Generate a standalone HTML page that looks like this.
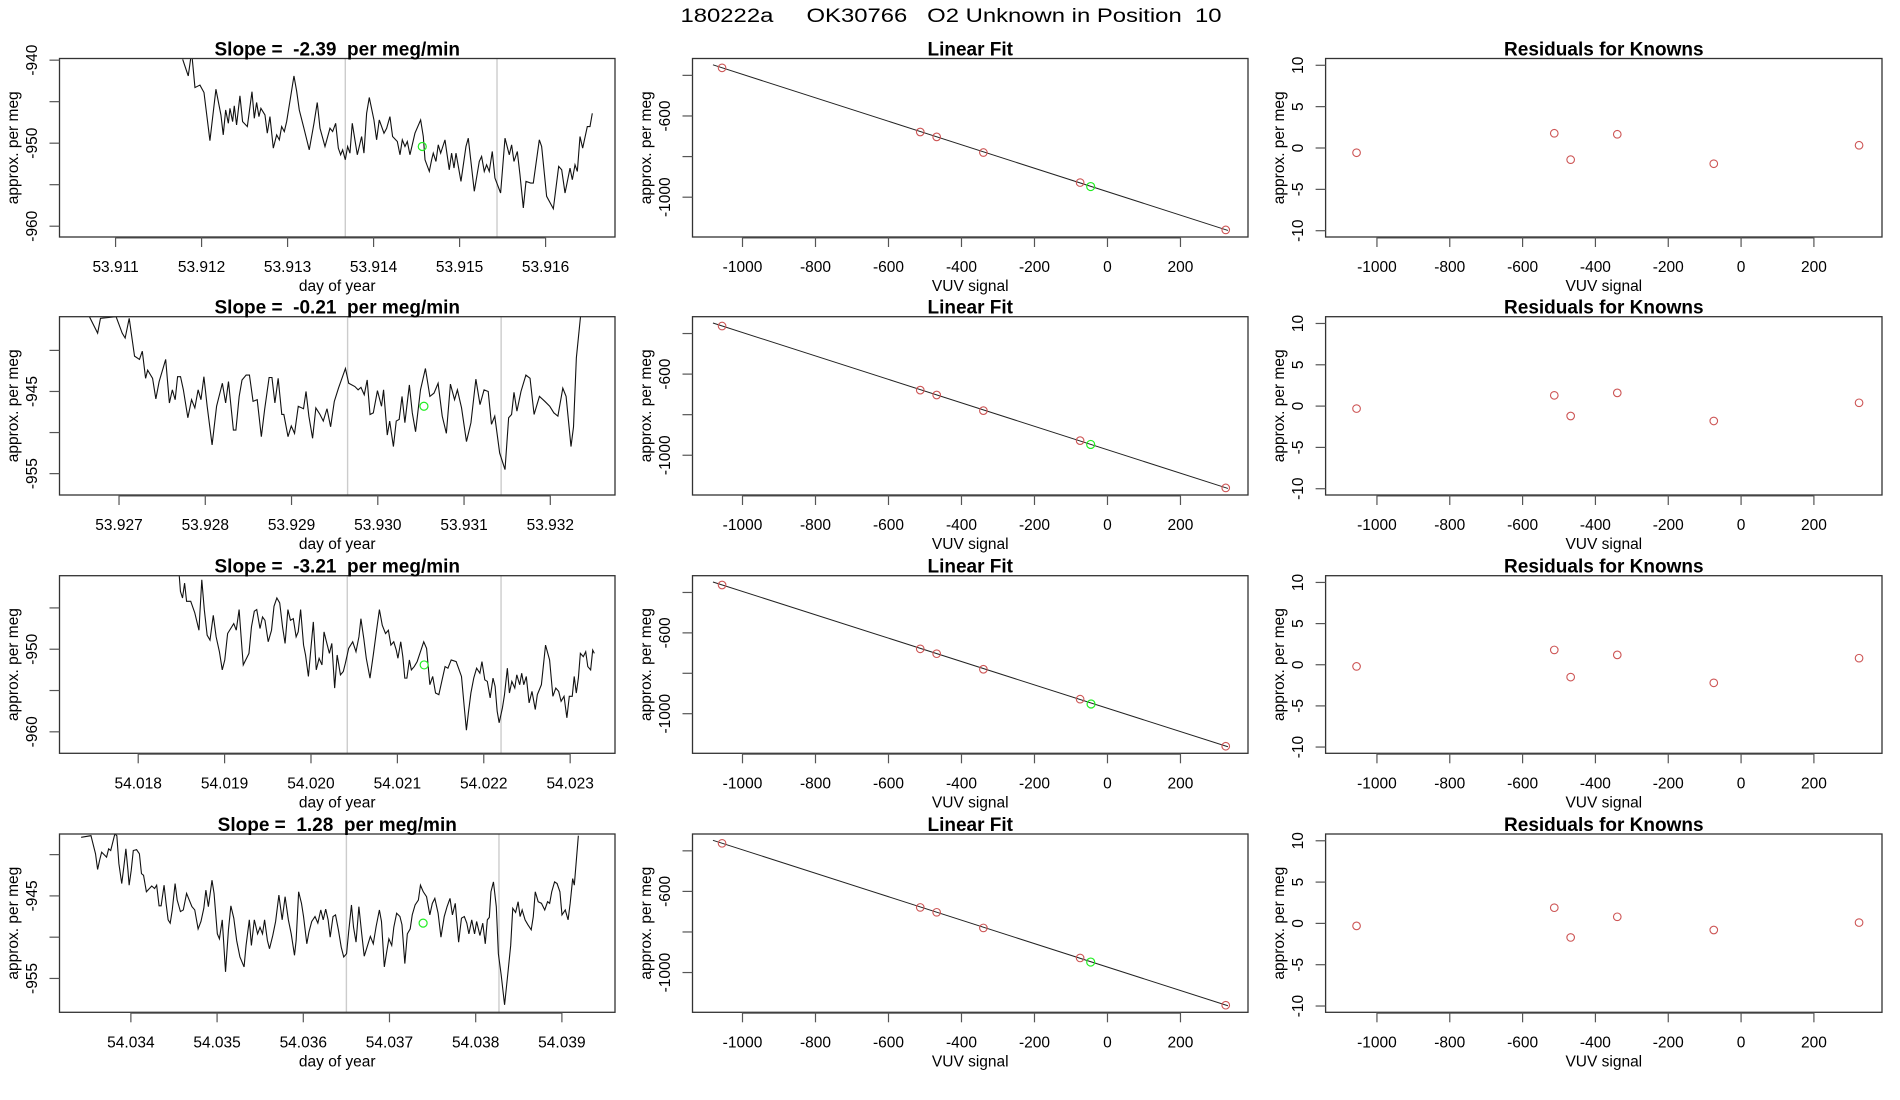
<!DOCTYPE html>
<html><head><meta charset="utf-8"><title>180222a OK30766 O2 Unknown in Position 10</title>
<style>
html,body{margin:0;padding:0;background:#fff;}
svg{display:block;font-family:"Liberation Sans",Arial,sans-serif;}
text{white-space:pre;}
</style></head>
<body>
<svg id="fig" width="1900" height="1100" viewBox="0 0 1900 1100" xmlns="http://www.w3.org/2000/svg">
<rect x="0" y="0" width="1900" height="1100" fill="#fff"/>
<text x="951" y="22" font-size="19" text-anchor="middle" textLength="541" lengthAdjust="spacingAndGlyphs" xml:space="preserve">180222a     OK30766   O2 Unknown in Position  10</text>
</svg>
<script>
// ---------- DATA ----------
const slopeLabels = ["-2.39", "-0.21", "-3.21", "1.28"];

const ts1Days = [53.911780,53.911845,53.911884,53.911923,53.911981,53.912028,53.912097,53.912167,53.912225,53.912252,53.912280,53.912311,53.912330,53.912361,53.912380,53.912407,53.912446,53.912477,53.912532,53.912586,53.912613,53.912640,53.912667,53.912690,53.912737,53.912764,53.912795,53.912834,53.912873,53.912904,53.912931,53.912962,53.912989,53.913028,53.913074,53.913105,53.913136,53.913190,53.913252,53.913307,53.913345,53.913377,53.913435,53.913493,53.913524,53.913559,53.913590,53.913617,53.913640,53.913671,53.913698,53.913725,53.913752,53.913783,53.913811,53.913861,53.913888,53.913919,53.913950,53.914004,53.914035,53.914066,53.914121,53.914152,53.914190,53.914221,53.914276,53.914307,53.914334,53.914365,53.914392,53.914423,53.914481,53.914547,53.914578,53.914598,53.914648,53.914675,53.914694,53.914725,53.914752,53.914780,53.914830,53.914880,53.914907,53.914935,53.914958,53.915016,53.915074,53.915101,53.915171,53.915229,53.915256,53.915287,53.915314,53.915345,53.915380,53.915411,53.915477,53.915528,53.915578,53.915605,53.915632,53.915671,53.915702,53.915741,53.915772,53.915826,53.915857,53.915927,53.915954,53.916012,53.916090,53.916152,53.916187,53.916226,53.916284,53.916311,53.916342,53.916369,53.916400,53.916431,53.916485,53.916516,53.916543];
const ts1Vals = [-939.9,-941.9,-939.0,-943.3,-943.0,-943.9,-949.7,-943.5,-946.6,-949.0,-946.0,-947.6,-945.8,-947.4,-945.5,-947.8,-944.3,-947.4,-948.0,-943.8,-947.0,-945.1,-946.8,-945.8,-946.6,-948.8,-946.8,-950.6,-949.0,-949.6,-948.0,-948.6,-947.4,-944.9,-941.9,-943.7,-946.0,-948.2,-950.8,-947.6,-945.1,-948.2,-950.4,-948.2,-948.6,-947.6,-950.6,-951.4,-950.8,-952.0,-950.4,-951.2,-947.6,-949.6,-951.4,-949.2,-951.2,-946.4,-944.5,-947.2,-949.6,-947.2,-948.8,-948.2,-946.8,-949.2,-949.8,-951.4,-949.6,-950.4,-949.8,-951.4,-948.8,-947.2,-949.2,-952.0,-953.4,-952.0,-951.2,-952.2,-950.2,-951.2,-949.6,-953.2,-951.2,-953.0,-951.2,-954.6,-950.4,-949.4,-955.8,-952.2,-951.6,-953.4,-952.6,-953.4,-951.0,-954.2,-956.0,-949.4,-951.4,-950.2,-952.2,-951.0,-953.8,-957.8,-954.6,-954.8,-954.8,-949.6,-950.4,-956.4,-957.9,-952.8,-953.2,-956.0,-953.0,-954.4,-952.6,-953.4,-949.2,-950.6,-948.0,-948.0,-946.4];

const ts2Days = [53.926657,53.926752,53.926785,53.926966,53.927037,53.927071,53.927118,53.927180,53.927237,53.927270,53.927308,53.927332,53.927389,53.927427,53.927465,53.927541,53.927584,53.927618,53.927651,53.927679,53.927713,53.927746,53.927798,53.927841,53.927879,53.927917,53.927950,53.927984,53.928022,53.928079,53.928131,53.928198,53.928236,53.928269,53.928326,53.928355,53.928393,53.928426,53.928474,53.928512,53.928554,53.928602,53.928650,53.928688,53.928740,53.928773,53.928807,53.928845,53.928887,53.928911,53.928959,53.928997,53.929035,53.929078,53.929139,53.929168,53.929201,53.929244,53.929282,53.929330,53.929368,53.929411,53.929453,53.929496,53.929544,53.929625,53.929663,53.929734,53.929772,53.929805,53.929843,53.929877,53.929910,53.929948,53.929996,53.930043,53.930067,53.930110,53.930138,53.930181,53.930214,53.930248,53.930281,53.930314,53.930366,53.930400,53.930438,53.930495,53.930552,53.930604,53.930652,53.930699,53.930747,53.930795,53.930842,53.930890,53.930923,53.930971,53.931028,53.931080,53.931137,53.931185,53.931232,53.931280,53.931318,53.931356,53.931413,53.931475,53.931517,53.931551,53.931579,53.931613,53.931660,53.931717,53.931765,53.931812,53.931874,53.931936,53.931993,53.932041,53.932088,53.932145,53.932183,53.932240,53.932269,53.932302,53.932350];
const ts2Vals = [-935.9,-937.9,-936.1,-935.9,-937.9,-938.5,-936.1,-940.7,-941.1,-940.1,-943.4,-942.4,-943.4,-945.9,-943.8,-941.1,-946.4,-944.8,-946.0,-943.2,-943.2,-944.8,-948.2,-946.0,-947.0,-944.8,-946.0,-943.2,-946.8,-951.5,-946.8,-944.0,-946.4,-943.8,-949.7,-949.7,-945.6,-943.6,-943.0,-943.0,-946.2,-946.0,-950.5,-947.2,-943.3,-943.3,-946.4,-943.4,-947.8,-947.8,-950.5,-949.2,-950.1,-946.8,-947.1,-945.0,-948.0,-950.7,-947.0,-947.8,-948.6,-947.1,-949.3,-946.2,-944.6,-942.2,-944.0,-944.4,-944.8,-944.5,-945.4,-943.6,-947.8,-947.6,-944.9,-946.8,-944.8,-950.3,-948.6,-951.7,-948.6,-948.4,-945.6,-948.8,-944.2,-947.6,-949.9,-944.8,-942.2,-945.6,-945.2,-944.0,-948.0,-950.1,-944.1,-946.0,-944.8,-947.0,-951.1,-948.8,-943.5,-946.6,-944.8,-945.0,-949.0,-948.0,-952.5,-954.5,-948.2,-947.8,-945.1,-947.4,-945.0,-943.0,-943.4,-947.8,-945.6,-946.2,-946.8,-947.6,-948.0,-944.6,-945.6,-951.7,-949.3,-940.9,-935.9];

const ts3Days = [54.018475,54.018489,54.018513,54.018537,54.018560,54.018608,54.018655,54.018703,54.018736,54.018765,54.018798,54.018831,54.018869,54.018902,54.018940,54.018973,54.019002,54.019035,54.019106,54.019135,54.019168,54.019201,54.019216,54.019282,54.019311,54.019344,54.019372,54.019410,54.019439,54.019467,54.019505,54.019543,54.019572,54.019605,54.019638,54.019671,54.019700,54.019733,54.019762,54.019795,54.019828,54.019852,54.019880,54.019914,54.019937,54.019970,54.019994,54.020027,54.020061,54.020094,54.020127,54.020151,54.020179,54.020213,54.020241,54.020274,54.020303,54.020341,54.020374,54.020398,54.020436,54.020483,54.020521,54.020555,54.020578,54.020611,54.020640,54.020683,54.020721,54.020759,54.020792,54.020825,54.020863,54.020896,54.020925,54.020958,54.020987,54.021006,54.021039,54.021063,54.021086,54.021110,54.021139,54.021162,54.021195,54.021229,54.021267,54.021305,54.021338,54.021376,54.021409,54.021442,54.021480,54.021518,54.021552,54.021585,54.021623,54.021680,54.021708,54.021742,54.021775,54.021799,54.021822,54.021851,54.021884,54.021917,54.021955,54.021979,54.022012,54.022041,54.022074,54.022107,54.022131,54.022155,54.022178,54.022216,54.022240,54.022273,54.022297,54.022325,54.022359,54.022382,54.022416,54.022439,54.022463,54.022492,54.022525,54.022558,54.022596,54.022620,54.022667,54.022715,54.022762,54.022800,54.022834,54.022867,54.022895,54.022929,54.022962,54.022990,54.023024,54.023047,54.023071,54.023095,54.023118,54.023152,54.023180,54.023204,54.023237,54.023261,54.023280];
const ts3Vals = [-941.1,-943.0,-943.8,-942.0,-944.2,-944.2,-945.6,-947.7,-941.6,-945.2,-948.3,-948.9,-945.9,-948.5,-950.3,-952.5,-951.3,-948.1,-946.9,-947.7,-945.2,-949.9,-951.9,-950.5,-947.3,-945.4,-945.2,-947.5,-946.1,-946.5,-949.1,-947.7,-944.8,-943.8,-944.4,-947.3,-949.3,-945.2,-946.5,-946.3,-948.5,-947.9,-945.2,-949.5,-950.7,-953.3,-950.5,-946.7,-952.5,-951.1,-951.9,-947.9,-949.1,-950.5,-949.3,-954.7,-950.7,-953.1,-952.7,-951.7,-949.9,-949.1,-950.3,-948.5,-946.3,-948.7,-951.1,-953.5,-950.7,-947.7,-945.2,-947.1,-948.1,-947.7,-949.5,-949.1,-950.1,-951.1,-949.1,-950.9,-953.5,-953.5,-951.3,-952.5,-952.1,-951.5,-950.3,-949.1,-949.9,-954.3,-953.3,-955.3,-955.5,-953.7,-952.1,-952.3,-951.3,-951.5,-952.3,-953.3,-957.1,-959.8,-957.7,-955.3,-953.5,-952.3,-952.9,-951.5,-953.7,-953.9,-955.9,-953.5,-954.5,-957.5,-958.9,-957.1,-955.5,-952.3,-955.3,-953.9,-954.7,-953.1,-954.3,-952.9,-954.3,-953.3,-956.5,-955.1,-957.3,-955.5,-954.3,-949.5,-951.3,-955.7,-954.7,-955.1,-956.3,-955.7,-958.3,-955.7,-955.7,-953.3,-955.3,-953.5,-950.5,-950.9,-950.3,-952.1,-952.5,-950.1,-950.5];

const ts4Days = [54.033423,54.033537,54.033590,54.033614,54.033637,54.033661,54.033718,54.033742,54.033766,54.033814,54.033837,54.033861,54.033894,54.033918,54.033942,54.033966,54.033980,54.034004,54.034028,54.034066,54.034099,54.034123,54.034147,54.034180,54.034242,54.034275,54.034299,54.034327,54.034351,54.034385,54.034408,54.034432,54.034456,54.034480,54.034513,54.034537,54.034575,54.034608,54.034646,54.034708,54.034741,54.034780,54.034813,54.034846,54.034870,54.034899,54.034941,54.034965,54.035003,54.035027,54.035060,54.035098,54.035132,54.035160,54.035194,54.035227,54.035265,54.035313,54.035336,54.035374,54.035398,54.035432,54.035470,54.035498,54.035527,54.035551,54.035584,54.035608,54.035646,54.035679,54.035717,54.035755,54.035789,54.035827,54.035860,54.035898,54.035917,54.035946,54.035979,54.036003,54.036041,54.036065,54.036098,54.036136,54.036169,54.036203,54.036231,54.036260,54.036288,54.036312,54.036345,54.036374,54.036407,54.036440,54.036469,54.036502,54.036526,54.036559,54.036583,54.036612,54.036645,54.036678,54.036707,54.036740,54.036778,54.036812,54.036845,54.036883,54.036907,54.036940,54.036964,54.036993,54.037026,54.037050,54.037083,54.037121,54.037145,54.037178,54.037207,54.037240,54.037264,54.037297,54.037335,54.037359,54.037392,54.037430,54.037468,54.037497,54.037526,54.037564,54.037597,54.037635,54.037668,54.037702,54.037730,54.037763,54.037802,54.037835,54.037868,54.037897,54.037921,54.037954,54.037987,54.038011,54.038049,54.038082,54.038111,54.038135,54.038158,54.038177,54.038206,54.038239,54.038263,54.038296,54.038335,54.038373,54.038406,54.038430,54.038463,54.038492,54.038515,54.038539,54.038573,54.038606,54.038644,54.038668,54.038691,54.038725,54.038763,54.038801,54.038834,54.038858,54.038882,54.038915,54.038944,54.038977,54.039001,54.039039,54.039072,54.039096,54.039125,54.039144,54.039191];
const ts4Vals = [-937.9,-937.7,-939.9,-941.8,-940.7,-939.7,-940.3,-939.3,-939.5,-937.5,-937.7,-941.1,-943.5,-941.5,-939.3,-941.9,-943.7,-941.9,-939.5,-939.4,-939.9,-942.3,-942.5,-944.5,-943.8,-944.1,-943.7,-946.2,-946.2,-943.7,-945.9,-947.9,-948.3,-946.7,-943.5,-945.5,-946.9,-946.7,-944.7,-946.3,-946.7,-949.0,-948.1,-946.5,-944.3,-946.3,-943.1,-944.7,-949.6,-950.2,-947.9,-954.2,-949.1,-946.2,-947.7,-950.4,-952.4,-953.6,-951.0,-947.9,-951.0,-947.9,-949.6,-948.8,-949.6,-947.9,-950.4,-951.4,-949.8,-948.1,-944.9,-947.9,-945.1,-947.9,-949.6,-952.2,-950.4,-944.5,-945.9,-947.5,-950.8,-949.4,-948.1,-947.5,-948.3,-946.7,-947.9,-946.6,-947.9,-950.0,-947.5,-947.3,-949.1,-951.2,-952.4,-952.0,-949.4,-946.1,-948.8,-950.6,-946.3,-949.6,-952.3,-951.2,-949.9,-950.8,-948.7,-946.7,-948.1,-953.6,-952.0,-950.2,-951.0,-948.8,-947.1,-947.5,-948.5,-953.2,-949.6,-949.0,-947.3,-946.1,-945.5,-943.7,-944.5,-945.1,-947.3,-945.9,-945.3,-947.1,-950.0,-947.5,-946.3,-945.3,-947.3,-945.9,-950.6,-947.7,-947.5,-948.3,-949.6,-947.9,-949.6,-948.1,-949.8,-948.3,-950.8,-947.9,-947.6,-944.5,-943.3,-946.3,-952.0,-954.6,-958.2,-954.4,-951.0,-946.5,-947.0,-945.7,-947.5,-946.7,-947.9,-948.5,-949.1,-947.5,-944.5,-945.7,-945.9,-946.7,-945.7,-945.9,-944.5,-943.3,-943.5,-944.5,-947.3,-946.7,-947.9,-945.9,-942.9,-943.7,-937.7];

// window markers (grey lines) and unknown (green) points in time panels
const windowStart = [53.913671, 53.92965, 54.02042, 54.0365];
const windowEnd = [53.915435, 53.93143, 54.02220, 54.03827];
const unknownDay = [53.914566, 53.930535, 54.02131, 54.03739];
const unknownVal = [-950.4, -946.8, -951.9, -948.3];

// time-axis ticks
const timeTicks = [
  [53.911, 53.912, 53.913, 53.914, 53.915, 53.916],
  [53.927, 53.928, 53.929, 53.930, 53.931, 53.932],
  [54.018, 54.019, 54.020, 54.021, 54.022, 54.023],
  [54.034, 54.035, 54.036, 54.037, 54.038, 54.039]
];
const timeTickLabels = [
  ["53.911","53.912","53.913","53.914","53.915","53.916"],
  ["53.927","53.928","53.929","53.930","53.931","53.932"],
  ["54.018","54.019","54.020","54.021","54.022","54.023"],
  ["54.034","54.035","54.036","54.037","54.038","54.039"]
];
const valTicks = [
  [-940, -945, -950, -955, -960],
  [-940, -945, -950, -955],
  [-945, -950, -955, -960],
  [-940, -945, -950, -955]
];
const valTickLabels = [
  ["-940", "", "-950", "", "-960"],
  ["", "-945", "", "-955"],
  ["", "-950", "", "-960"],
  ["", "-945", "", "-955"]
];
// axis limits for time panels
const timeXLim = [[53.910348, 53.916807],[53.926310, 53.932750],[54.017089, 54.023519],[54.033172, 54.039616]];
const timeYLim = [[-961.3, -939.8],[-957.6, -935.9],[-962.6, -941.1],[-959.1, -937.5]];

// linear fit
const knownSignal = [-1056, -513, -468, -340, -75, 324];
const knownPerMeg = [
  [-363, -679, -703, -780, -928, -1161],
  [-363, -679, -703, -780, -928, -1161],
  [-363, -679, -703, -780, -928, -1161],
  [-363, -679, -703, -780, -928, -1161]
];
const unknownSignal = [-46, -46, -45, -46];
const unknownPerMeg = [-947.6, -946.8, -951.9, -948.3];
const fitSlope = [-0.578, -0.578, -0.578, -0.578];
const fitIntercept = [-973, -973, -973, -973];
const fitXRange = [-1081, 330];
const signalTicks = [-1000, -800, -600, -400, -200, 0, 200];
const signalTickLabels = ["-1000","-800","-600","-400","-200","0","200"];
const fitYTicks = [-400, -600, -800, -1000];
const fitYTickLabels = ["", "-600", "", "-1000"];
const signalLim = [-1137, 385];
const fitYLim = [-1196, -317];

// residuals
const residuals = [
  [-0.57, 1.78, -1.41, 1.66, -1.90, 0.33],
  [-0.30, 1.30, -1.20, 1.60, -1.80, 0.40],
  [-0.20, 1.80, -1.50, 1.20, -2.20, 0.80],
  [-0.30, 1.90, -1.70, 0.80, -0.80, 0.10]
];
const resTicks = [10, 5, 0, -5, -10];
const resTickLabels = ["10", "5", "0", "-5", "-10"];
const resLim = [-10.76, 10.82];
const resXLim = [-1141, 387];

// ---------- LAYOUT ----------
const NS = "http://www.w3.org/2000/svg";
const svg = document.getElementById("fig");
const rowTop = [58.5, 316.7, 575.7, 834];
const rowBot = [237, 495, 753.3, 1012.3];
const colL = [59.5, 692.5, 1325.6];
const colR = [615, 1248, 1882];

function mk(tag, attrs, parent) {
  const e = document.createElementNS(NS, tag);
  for (const k in attrs) e.setAttribute(k, attrs[k]);
  (parent || svg).appendChild(e);
  return e;
}
function scale(d0, d1, r0, r1) { return v => r0 + (v - d0) / (d1 - d0) * (r1 - r0); }

function txt(x, y, s, size, opts, parent) {
  const t = mk("text", Object.assign({x: x, y: y, "font-size": size, "text-anchor": "middle", fill: "#000"}, opts || {}), parent);
  t.textContent = s;
  return t;
}

function axesFrame(g, r, c, title, xlab, ylab) {
  const L = colL[c], R = colR[c], T = rowTop[r], B = rowBot[r];
  const box = mk("rect", {x: L, y: T, width: R - L, height: B - T, fill: "none", stroke: "#333", "stroke-width": 1.3}, g);
  
  
  const t = txt((L + R) / 2, T - 3, title, 19, {"font-weight": "bold"}, g);
  
  
  const xl = txt((L + R) / 2, B + 54, xlab, 15.5, {}, g);
  
  
  const cy = (T + B) / 2, cx = L - 46;
  const yl = txt(cx, cy, ylab, 15.5, {transform: "rotate(-90 " + cx + " " + cy + ")", "dominant-baseline": "central"}, g);
  
  
}

function xTicks(g, r, c, sx, vals, labels) {
  const B = rowBot[r];
  const ax = mk("line", {x1: sx(vals[0]), x2: sx(vals[vals.length - 1]), y1: B + 1, y2: B + 1, stroke: "#555", "stroke-width": 1}, g);
  
  
  vals.forEach((v, i) => {
    const tk = mk("line", {x1: sx(v), x2: sx(v), y1: B, y2: B + 10, stroke: "#555", "stroke-width": 1.2}, g);
    
    
    const lb = txt(sx(v), B + 35, labels[i], 15.5, {}, g);
    
    
  });
}
function yTicks(g, r, c, sy, vals, labels) {
  const L = colL[c];
  vals.forEach((v, i) => {
    const tk = mk("line", {x1: L - 10, x2: L, y1: sy(v), y2: sy(v), stroke: "#555", "stroke-width": 1.2}, g);
    
    
    if (labels[i]) {
      const cx = L - 27, cy = sy(v);
      const lb = txt(cx, cy, labels[i], 15.5, {transform: "rotate(-90 " + cx + " " + cy + ")", "dominant-baseline": "central"}, g);
      
      
    }
  });
}

const tsDays = [ts1Days, ts2Days, ts3Days, ts4Days];
const tsVals = [ts1Vals, ts2Vals, ts3Vals, ts4Vals];

for (let r = 0; r < 4; r++) {
  const T = rowTop[r], B = rowBot[r];
  // --- time series panel ---
  const g1 = mk("g", {});
  
  
  const sx = scale(timeXLim[r][0], timeXLim[r][1], colL[0], colR[0]);
  const sy = scale(timeYLim[r][0], timeYLim[r][1], B, T);
  const cp = mk("clipPath", {id: "clip" + r}, g1);
  mk("rect", {x: colL[0], y: T, width: colR[0] - colL[0], height: B - T}, cp);
  [windowStart[r], windowEnd[r]].forEach(d => {
    const gl = mk("line", {x1: sx(d), x2: sx(d), y1: T, y2: B, stroke: "#cccccc", "stroke-width": 1.4}, g1);
    
    
  });
  const pts = tsDays[r].map((d, i) => sx(d).toFixed(2) + "," + sy(tsVals[r][i]).toFixed(2)).join(" ");
  const pl = mk("polyline", {points: pts, fill: "none", stroke: "#111", "stroke-width": 1.1, "clip-path": "url(#clip" + r + ")"}, g1);
  
  
  const gp = mk("circle", {cx: sx(unknownDay[r]), cy: sy(unknownVal[r]), r: 4, fill: "none", stroke: "#22ee22", "stroke-width": 1.2}, g1);
  
  
  axesFrame(g1, r, 0, "Slope =  " + slopeLabels[r] + "  per meg/min", "day of year", "approx. per meg");
  xTicks(g1, r, 0, sx, timeTicks[r], timeTickLabels[r]);
  yTicks(g1, r, 0, sy, valTicks[r], valTickLabels[r]);

  // --- linear fit panel ---
  const g2 = mk("g", {});
  
  
  const fx = scale(signalLim[0], signalLim[1], colL[1], colR[1]);
  const fy = scale(fitYLim[0], fitYLim[1], B, T);
  const fl = mk("line", {x1: fx(fitXRange[0]), y1: fy(fitIntercept[r] + fitSlope[r] * fitXRange[0]), x2: fx(fitXRange[1]), y2: fy(fitIntercept[r] + fitSlope[r] * fitXRange[1]), stroke: "#222", "stroke-width": 1}, g2);
  
  
  knownSignal.forEach((x, i) => {
    const c = mk("circle", {cx: fx(x), cy: fy(knownPerMeg[r][i]), r: 3.8, fill: "none", stroke: "#cd5555", "stroke-width": 1.1}, g2);
    
    
  });
  const ug = mk("circle", {cx: fx(unknownSignal[r]), cy: fy(unknownPerMeg[r]), r: 4, fill: "none", stroke: "#22ee22", "stroke-width": 1.2}, g2);
  
  
  axesFrame(g2, r, 1, "Linear Fit", "VUV signal", "approx. per meg");
  xTicks(g2, r, 1, fx, signalTicks, signalTickLabels);
  yTicks(g2, r, 1, fy, fitYTicks, fitYTickLabels);

  // --- residuals panel ---
  const g3 = mk("g", {});
  
  
  const rx = scale(resXLim[0], resXLim[1], colL[2], colR[2]);
  const ry = scale(resLim[0], resLim[1], B, T);
  knownSignal.forEach((x, i) => {
    const c = mk("circle", {cx: rx(x), cy: ry(residuals[r][i]), r: 3.8, fill: "none", stroke: "#cd5555", "stroke-width": 1.1}, g3);
    
    
  });
  axesFrame(g3, r, 2, "Residuals for Knowns", "VUV signal", "approx. per meg");
  xTicks(g3, r, 2, rx, signalTicks, signalTickLabels);
  yTicks(g3, r, 2, ry, resTicks, resTickLabels);
}
</script>
</body></html>
